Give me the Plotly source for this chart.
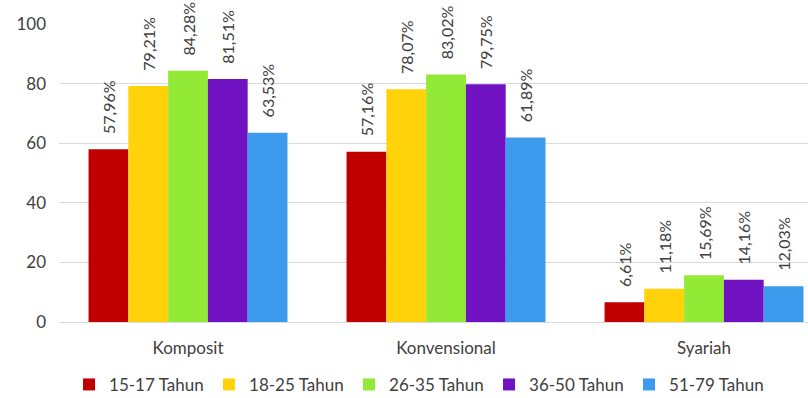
import plotly.graph_objects as go

# Categories and age groups
categories = ["Komposit", "Konvensional", "Syariah"]
age_groups = ["15-17 Tahun", "18-25 Tahun", "26-35 Tahun", "36-50 Tahun", "51-79 Tahun"]

# Percentages per age group, one value per category
v_15_17 = [57.96, 57.16, 6.61]
v_18_25 = [79.21, 78.07, 11.18]
v_26_35 = [84.28, 83.02, 15.69]
v_36_50 = [81.51, 79.75, 14.16]
v_51_79 = [63.53, 61.89, 12.03]

y_ticks = [0, 20, 40, 60, 80, 100]

series = [v_15_17, v_18_25, v_26_35, v_36_50, v_51_79]
colors = ["#C00000", "#FFD20A", "#92EA36", "#7112C2", "#3D9BEE"]

FONT = "Lato, 'Open Sans', sans-serif"
TEXT_COLOR = "#404040"
GRID = "#D9D9D9"

def fmt(v):
    return "\u00a0\u00a0\u00a0" + f"{v:.2f}".replace(".", ",") + "%"

fig = go.Figure()
for name, vals, col in zip(age_groups, series, colors):
    fig.add_trace(go.Bar(
        name=name,
        x=categories,
        y=vals,
        marker=dict(color=col, line=dict(width=0)),
        text=[fmt(v) for v in vals],
        textposition="outside",
        textangle=-90,
        constraintext="none",
        textfont=dict(family=FONT, size=16, color=TEXT_COLOR),
        cliponaxis=False,
        hoverinfo="skip",
    ))

fig.update_layout(
    width=808,
    height=398,
    margin=dict(l=59, r=0, t=24, b=76, autoexpand=False),
    paper_bgcolor="white",
    plot_bgcolor="white",
    barmode="group",
    bargap=0.229,
    bargroupgap=0,
    font=dict(family=FONT, color=TEXT_COLOR),
    xaxis=dict(
        type="category",
        range=[-0.5, 2.403],
        showgrid=False,
        showline=False,
        ticks="",
        tickfont=dict(family=FONT, size=17, color=TEXT_COLOR),
        ticklabelstandoff=14,
        automargin=False,
    ),
    yaxis=dict(
        range=[0, 100],
        tickvals=y_ticks,
        showgrid=True,
        gridcolor=GRID,
        gridwidth=1,
        zeroline=True,
        zerolinecolor=GRID,
        zerolinewidth=1,
        showline=False,
        ticks="",
        tickfont=dict(family=FONT, size=17, color=TEXT_COLOR),
        ticklabelstandoff=12,
        automargin=False,
    ),
    legend=dict(
        orientation="h",
        x=0.0134,
        xanchor="left",
        y=-0.211,
        yanchor="middle",
        font=dict(family=FONT, size=17, color=TEXT_COLOR),
        entrywidth=95,
        entrywidthmode="pixels",
        traceorder="normal",
        itemclick=False,
    ),
    showlegend=True,
)

fig.write_html("out.html")
